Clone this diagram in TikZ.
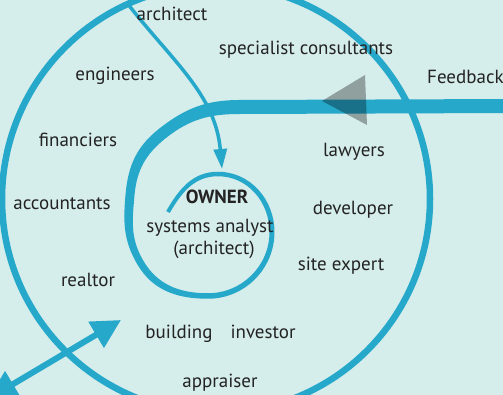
\documentclass[tikz,border=0pt]{standalone}
\usepackage{fontspec}
\setmainfont{PT Sans}
\usepackage{xcolor}
\usetikzlibrary{arrows.meta, calc}

\definecolor{paper}{RGB}{213,237,235}
\definecolor{cyanline}{RGB}{38,168,202}
\definecolor{ink}{RGB}{35,35,35}

\begin{document}
\begin{tikzpicture}[x=1pt, y=1pt,
    lbl/.style={inner sep=0pt, anchor=base, text=ink, font=\fontsize{19}{22}\selectfont},
    ring/.style={draw=cyanline, line width=6.5pt},
    band/.style={fill=cyanline},
    arr/.style={draw=cyanline, line width=3.5pt, -{Triangle[length=20pt, width=13pt]}},
    twoway/.style={draw=cyanline, line width=6pt, {Triangle[length=29pt, width=29pt]}-{Triangle[length=29pt, width=29pt]}},
    wedge/.style={fill=black, fill opacity=0.32}]

    % frame
    \useasboundingbox (0,0) rectangle (503,395);
    \clip (0,0) rectangle (503,395);
    \fill[paper] (0,0) rectangle (503,395);

    % outer ring
    \coordinate (hub) at (216,196);
    \draw[ring] (hub) circle[radius=214];

    % feedback spiral (centre line, heading, width)
    \foreach \n/\x/\y/\d/\w in {0/515/289/180/14, 1/240/288/180/14, 2/163/262/218/11.5,
        3/130/200/265/9, 4/140/133/300/7, 5/208/99/0/5.5, 6/272/163/90/5,
        7/218/221/180/4.5, 8/168/183/240/4} {
        \coordinate (s\n) at (\x,\y);
        \coordinate (a\n) at ($(s\n)+({\d+90}:{\w/2})$);
        \coordinate (b\n) at ($(s\n)+({\d-90}:{\w/2})$);
    }
    \fill[band] (a0) -- (a1) to[out=180,in=38] (a2) to[out=218,in=85] (a3)
        to[out=265,in=120] (a4) to[out=300,in=180] (a5) to[out=0,in=270] (a6)
        to[out=90,in=0] (a7) to[out=180,in=60] (a8) -- (b8)
        to[out=60,in=180] (b7) to[out=0,in=90] (b6) to[out=270,in=0] (b5)
        to[out=180,in=300] (b4) to[out=120,in=265] (b3) to[out=85,in=218] (b2)
        to[out=38,in=180] (b1) -- (b0) -- cycle;

    % arrows
    \coordinate (archtop) at (127,392);
    \coordinate (archtip) at (222,226);
    \draw[arr] (archtop) to[out=-52,in=95] (archtip);

    \coordinate (swend) at (-12,-4);
    \coordinate (neend) at (121,75);
    \draw[twoway] (swend) -- (neend);

    \coordinate (fbtip) at (322,294);
    \coordinate (fbtop) at (365,320);
    \coordinate (fbbot) at (367,270);
    \fill[wedge] (fbtip) -- (fbtop) -- (fbbot) -- cycle;

    % labels
    \node[lbl] (architect) at (172,374) {architect};
    \node[lbl] (specialist) at (306,340) {specialist consultants};
    \node[lbl, anchor=base west] (feedback) at (427,311) {Feedback};
    \node[lbl] (engineers) at (115,314) {engineers};
    \node[lbl] (financiers) at (78,248) {financiers};
    \node[lbl] (lawyers) at (354,238) {lawyers};
    \node[lbl] (accountants) at (62,185) {accountants};
    \node[lbl, font=\fontsize{19}{22}\selectfont\bfseries] (owner) at (217,191) {OWNER};
    \node[lbl] (analyst) at (210,162) {systems analyst};
    \node[lbl] (archsub) at (214,140) {(architect)};
    \node[lbl] (developer) at (353,180) {developer};
    \node[lbl] (siteexpert) at (341,124) {site expert};
    \node[lbl] (realtor) at (88,108) {realtor};
    \node[lbl] (building) at (179,56) {building};
    \node[lbl] (investor) at (263,56) {investor};
    \node[lbl] (appraiser) at (220,7) {appraiser};
\end{tikzpicture}
\end{document}
